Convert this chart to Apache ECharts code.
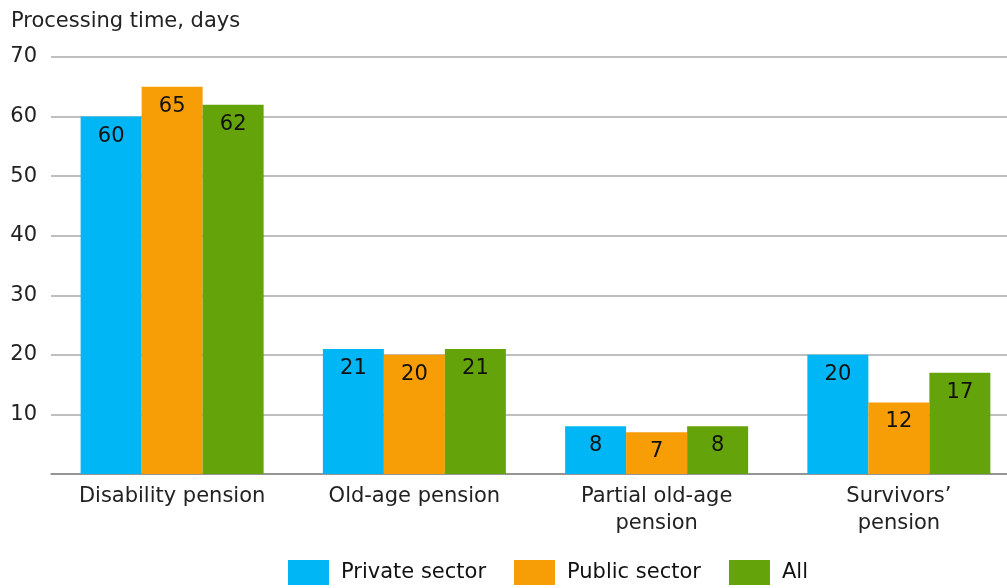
<!DOCTYPE html>
<html>
<head>
<meta charset="utf-8">
<script src="https://cdn.jsdelivr.net/npm/echarts@6/dist/echarts.min.js"></script>
<style>
  html, body { margin: 0; padding: 0; background: #fff; }
  #chart { width: 1007px; height: 588px; }
</style>
</head>
<body>
<div id="chart"></div>
<script>
var categories = ['Disability pension', 'Old-age pension', 'Partial old-age\npension', 'Survivors\u2019\npension'];
var seriesNames = ['Private sector', 'Public sector', 'All'];
var privateSector = [60, 21, 8, 20];
var publicSector = [65, 20, 7, 12];
var allSectors = [62, 21, 8, 17];
var colors = ['#00b6f5', '#f79d05', '#65a30a'];

var chart = echarts.init(document.getElementById('chart'));

function makeSeries(name, data, color) {
  return {
    name: name,
    type: 'bar',
    data: data,
    barWidth: 61,
    barGap: '0%',
    itemStyle: { color: color },
    label: {
      show: true,
      position: 'insideTop',
      distance: 9,
      color: '#111',
      fontSize: 21,
      fontFamily: 'DejaVu Sans'
    }
  };
}

var option = {
  animation: false,
  textStyle: { fontFamily: 'DejaVu Sans' },
  title: {
    text: 'Processing time, days',
    left: 6,
    top: 6,
    textStyle: { fontSize: 21, fontWeight: 'normal', color: '#222', fontFamily: 'DejaVu Sans' }
  },
  legend: {
    bottom: -2,
    left: 283,
    itemWidth: 41,
    itemHeight: 25,
    itemGap: 28,
    icon: 'rect',
    textStyle: { fontSize: 21, color: '#111', fontFamily: 'DejaVu Sans', padding: [0, 0, 0, 7] },
    data: seriesNames
  },
  grid: { left: 51, width: 969, top: 57, bottom: 114, containLabel: false, outerBoundsMode: 'none' },
  xAxis: {
    type: 'category',
    data: categories,
    axisLine: { lineStyle: { color: '#888', width: 1.5 } },
    axisTick: { show: false },
    axisLabel: { interval: 0, fontSize: 21, color: '#222', lineHeight: 27, margin: 9, fontFamily: 'DejaVu Sans' }
  },
  yAxis: {
    type: 'value',
    min: 0,
    max: 70,
    interval: 10,
    axisLine: { show: false },
    axisTick: { show: false },
    splitLine: { lineStyle: { color: '#aaa', width: 1.5 } },
    axisLabel: {
      fontSize: 21,
      color: '#222',
      margin: 14,
      fontFamily: 'DejaVu Sans',
      formatter: function (v) { return v === 0 ? '' : v; }
    }
  },
  series: [
    makeSeries(seriesNames[0], privateSector, colors[0]),
    makeSeries(seriesNames[1], publicSector, colors[1]),
    makeSeries(seriesNames[2], allSectors, colors[2])
  ]
};

chart.setOption(option);
window.addEventListener('resize', function () { chart.resize(); });
</script>
</body>
</html>
